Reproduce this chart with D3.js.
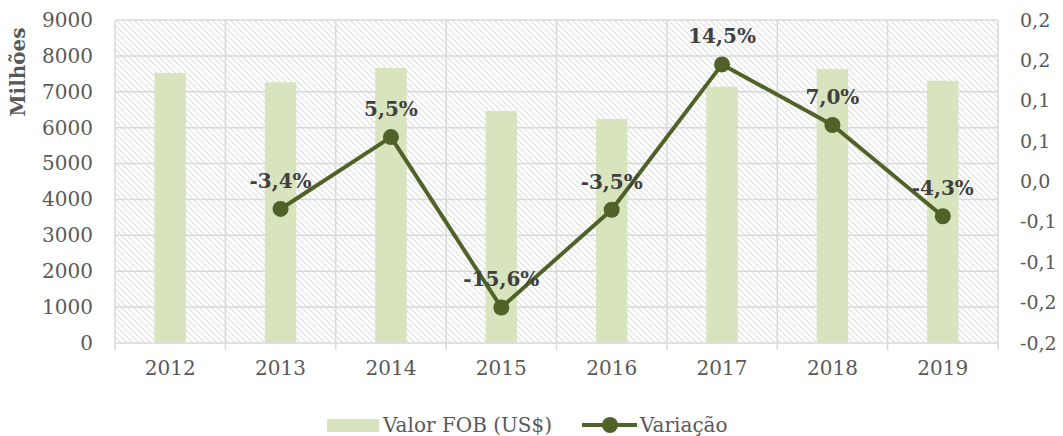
<!DOCTYPE html>
<html><head><meta charset="utf-8">
<script src="https://cdn.jsdelivr.net/npm/d3@7"></script>
<style>body{margin:0;background:#fff;}svg{display:block;font-family:"DejaVu Serif",serif;}</style>
</head><body><svg id="c" width="1063" height="436"></svg>
<script>
const years = ["2012","2013","2014","2015","2016","2017","2018","2019"];
const fobValues = [7523, 7264, 7663, 6464, 6241, 7142, 7635, 7307];
const variation = [null, -0.034, 0.055, -0.156, -0.035, 0.145, 0.070, -0.043];
const leftTicks = [0,1000,2000,3000,4000,5000,6000,7000,8000,9000];
const rightTicks = [-0.2,-0.15,-0.1,-0.05,0,0.05,0.1,0.15,0.2];

const svg = d3.select("#c");
const L = 115, R = 998, T = 20, B = 343;
const x = d3.scaleBand().domain(years).range([L, R]).paddingInner(0.715).paddingOuter(0.3575);
const xc = d3.scaleBand().domain(years).range([L, R]).padding(0);
const y = d3.scaleLinear().domain([0, 9000]).range([B, T]);
const y2 = d3.scaleLinear().domain([-0.2, 0.2]).range([B, T]);

const defs = svg.append("defs");
const pat = defs.append("pattern").attr("id","hatch").attr("patternUnits","userSpaceOnUse")
  .attr("width",6).attr("height",6);
pat.append("path").attr("d","M0,0L6,6M-1,5L1,7M5,-1L7,1")
  .attr("stroke","#dedede").attr("stroke-width",1.1);
svg.append("rect").attr("x",L).attr("y",T).attr("width",R-L).attr("height",B-T).attr("fill","url(#hatch)");

// horizontal gridlines
svg.append("g").selectAll("line").data(leftTicks.filter(d=>d>0)).join("line")
  .attr("x1",L).attr("x2",R).attr("y1",d=>y(d)).attr("y2",d=>y(d))
  .attr("stroke","#d9d9d9").attr("stroke-width",1.5);
// vertical gridlines at category boundaries
const bounds = years.map(d=>xc(d)).concat([R]);
svg.append("g").selectAll("line").data(bounds).join("line")
  .attr("x1",d=>d).attr("x2",d=>d).attr("y1",T).attr("y2",B+7)
  .attr("stroke","#d9d9d9").attr("stroke-width",1.5);

// bars
svg.append("g").selectAll("rect").data(years).join("rect")
  .attr("x",d=>x(d)).attr("width",x.bandwidth())
  .attr("y",(d,i)=>y(fobValues[i])).attr("height",(d,i)=>B-y(fobValues[i]))
  .attr("fill","#d7e4bd");

// x axis line
svg.append("line").attr("x1",L).attr("x2",R).attr("y1",B).attr("y2",B)
  .attr("stroke","#d9d9d9").attr("stroke-width",1.5);

// left axis
const ya = svg.append("g").attr("transform",`translate(${L-22},0)`)
  .call(d3.axisLeft(y).tickValues(leftTicks).tickSize(0).tickPadding(0).tickFormat(d3.format("d")));
ya.select(".domain").remove();
ya.selectAll("text").attr("font-family","DejaVu Serif").attr("font-size",20).attr("fill","#595959");

// right axis
const fmtR = d => {
  const r = Math.round(Math.abs(d)*10 + 1e-9)/10;
  return (d < -1e-9 ? "-" : "") + r.toFixed(1).replace(".",",");
};
const ra = svg.append("g").attr("transform",`translate(${1020},0)`)
  .call(d3.axisRight(y2).tickValues(rightTicks).tickSize(0).tickPadding(0).tickFormat(fmtR));
ra.select(".domain").remove();
ra.selectAll("text").attr("font-family","DejaVu Serif").attr("font-size",19).attr("fill","#595959");

// x axis labels
const xa = svg.append("g").attr("transform",`translate(0,${B+14})`)
  .call(d3.axisBottom(xc).tickSize(0).tickPadding(0));
xa.select(".domain").remove();
xa.selectAll("text").attr("font-family","DejaVu Serif").attr("font-size",20).attr("fill","#595959").attr("dy","0.9em");

// y title
svg.append("text").attr("transform","translate(25,72) rotate(-90)").attr("text-anchor","middle")
  .attr("font-size",20).attr("font-weight","bold").attr("fill","#595959").text("Milhões");

// line
const pts = years.map((d,i)=>({yr:d,v:variation[i]})).filter(p=>p.v!==null);
const cx = d => xc(d) + xc.bandwidth()/2;
svg.append("path").datum(pts)
  .attr("d", d3.line().x(p=>cx(p.yr)).y(p=>y2(p.v)))
  .attr("fill","none").attr("stroke","#4f6228").attr("stroke-width",4).attr("stroke-linejoin","round");
svg.append("g").selectAll("circle").data(pts).join("circle")
  .attr("cx",p=>cx(p.yr)).attr("cy",p=>y2(p.v)).attr("r",8).attr("fill","#4f6228");
const fmtP = v => (v<0?"-":"") + (Math.abs(v)*100).toFixed(1).replace(".",",") + "%";
svg.append("g").selectAll("text").data(pts).join("text")
  .attr("x",p=>cx(p.yr)).attr("y",p=>y2(p.v)-21).attr("text-anchor","middle")
  .attr("font-size",20).attr("font-weight","bold").attr("fill","#404040")
  .text(p=>fmtP(p.v));

// legend
const lg = svg.append("g");
lg.append("rect").attr("x",327).attr("y",419).attr("width",52).attr("height",13).attr("fill","#d7e4bd");
lg.append("text").attr("x",383).attr("y",432).attr("font-size",20).attr("fill","#595959").text("Valor FOB (US$)");
lg.append("line").attr("x1",582).attr("x2",637).attr("y1",425).attr("y2",425).attr("stroke","#4f6228").attr("stroke-width",4);
lg.append("circle").attr("cx",610).attr("cy",425).attr("r",8).attr("fill","#4f6228");
lg.append("text").attr("x",640).attr("y",432).attr("font-size",20).attr("fill","#595959").text("Variação");
</script></body></html>
